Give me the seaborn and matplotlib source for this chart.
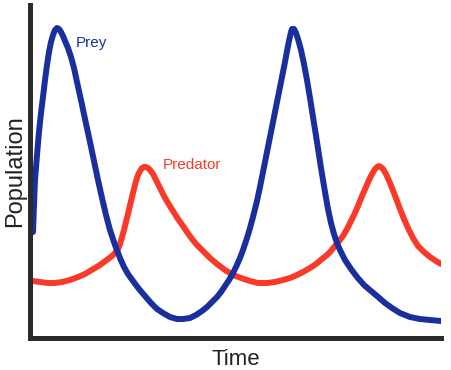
import matplotlib
matplotlib.use("Agg")
import matplotlib.pyplot as plt
import seaborn as sns

# valores (unidades arbitrarias)
prey_t = [3, 4, 5, 7, 9, 11, 13, 15, 17, 19, 21, 23, 25, 27, 29, 31, 33, 35, 38, 41, 44, 47,
          51, 55, 60, 64, 68, 72, 76, 80, 85, 90, 94, 98, 103, 109, 115, 121, 127, 133, 140,
          147, 153, 160, 166, 172, 177, 182, 187, 191, 195, 199, 202, 206, 210, 213, 217,
          220, 223, 227, 230, 233, 237, 240, 244, 248, 252, 255, 257, 259, 261, 262, 264,
          266, 268, 271, 274, 277, 280, 283, 287, 291, 295, 298, 301, 304, 307, 310, 315,
          321, 327, 334, 341, 347, 355, 362, 370, 380, 390, 400, 411]
prey_p = [106, 133, 158, 183, 206, 225, 241, 258, 273, 286, 296, 303, 308, 310, 309, 306,
          302, 297, 290, 281, 270, 256, 238, 219, 196, 177, 158, 140, 123, 108, 93, 80, 71,
          64, 57, 49, 42, 35, 29, 25, 21, 19, 19, 20, 23, 27, 31, 36, 41, 46, 52, 58, 63,
          71, 80, 88, 100, 110, 121, 137, 151, 166, 186, 201, 221, 241, 261, 276, 287, 297,
          306, 309, 309, 305, 299, 288, 274, 258, 240, 221, 196, 170, 146, 129, 115, 104,
          95, 88, 78, 69, 61, 53, 47, 42, 35, 30, 25, 21, 19, 18, 17]

pred_t = [3, 10, 18, 25, 32, 40, 48, 55, 60, 65, 70, 74, 78, 82, 85, 88, 90, 92, 94, 96,
          98, 100, 102, 104, 106, 108, 110, 112, 114, 116, 118, 120, 123, 126, 130, 134,
          138, 143, 148, 153, 157, 162, 167, 173, 180, 187, 195, 203, 211, 220, 228, 237,
          245, 253, 260, 267, 273, 280, 286, 292, 297, 300, 305, 310, 313, 317, 320, 324,
          328, 332, 336, 339, 342, 345, 347, 349, 351, 353, 356, 360, 364, 367, 370, 374,
          378, 383, 388, 394, 400, 406, 411]
pred_p = [57, 56, 55, 55, 56, 58, 61, 64, 67, 70, 73, 76, 79, 82, 85, 89, 94, 101, 108,
          116, 124, 133, 141, 149, 157, 163, 167, 170, 171, 171, 170, 168, 164, 158, 150,
          142, 135, 127, 119, 112, 106, 99, 93, 87, 80, 74, 68, 63, 60, 57, 55, 55, 56, 58,
          60, 63, 66, 70, 74, 79, 83, 86, 92, 98, 102, 109, 115, 123, 132, 142, 151, 158,
          164, 169, 171, 172, 171, 169, 164, 155, 145, 137, 129, 119, 110, 100, 92, 86, 81,
          77, 74]

blue = "#1a2f9e"
red = "#fa3a28"

sns.set_style("white")
plt.rcParams["font.family"] = ["Liberation Sans", "DejaVu Sans"]

fig = plt.figure(figsize=(4.52, 3.70), dpi=100)
ax = fig.add_axes([30 / 452, 32 / 370, 411 / 452, 333 / 370])

sns.lineplot(x=pred_t, y=pred_p, color=red, linewidth=4.3, ax=ax,
             solid_joinstyle="round")
sns.lineplot(x=prey_t, y=prey_p, color=blue, linewidth=4.3, ax=ax,
             solid_joinstyle="round")

ax.set_xlim(0, 411)
ax.set_ylim(0, 333)
ax.set_xticks([])
ax.set_yticks([])
for s in ["top", "right"]:
    ax.spines[s].set_visible(False)
for s in ["left", "bottom"]:
    ax.spines[s].set_color("#2b2b2b")
    ax.spines[s].set_linewidth(3.6)
    ax.spines[s].set_capstyle("projecting")

ax.text(46, 295, "Prey", color=blue, fontsize=11, ha="left", va="center")
ax.text(133, 173, "Predator", color=red, fontsize=11, ha="left", va="center")

ax.set_xlabel("Time", fontsize=16, color="#222222", labelpad=8)
ax.set_ylabel("Population", fontsize=17, color="#222222", labelpad=3)

fig.savefig("out.png", dpi=100)
